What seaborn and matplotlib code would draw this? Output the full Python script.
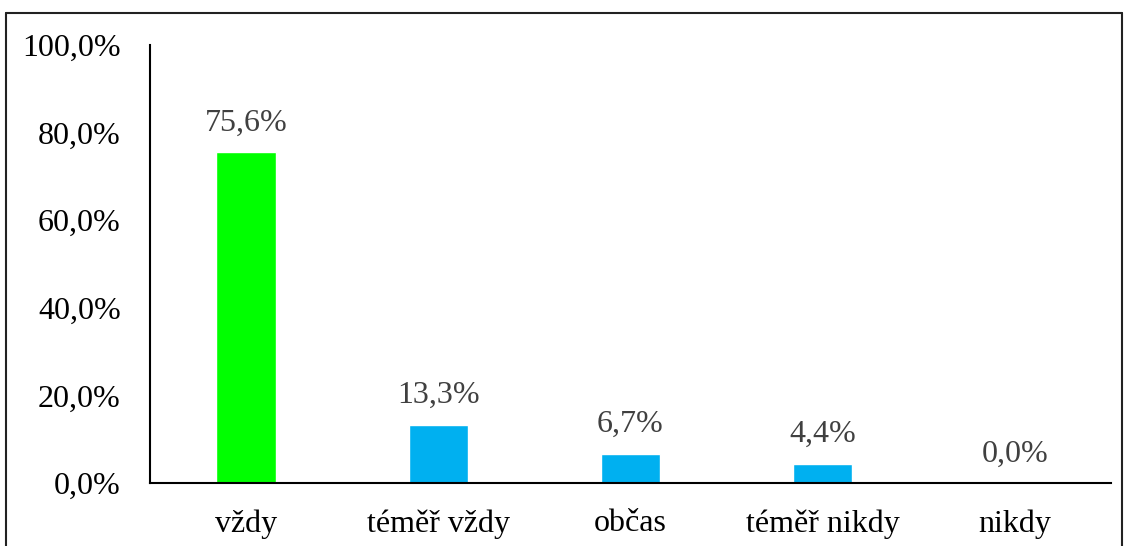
import matplotlib
matplotlib.use("Agg")
import matplotlib.pyplot as plt
import seaborn as sns
import pandas as pd
from matplotlib.lines import Line2D

categories = ["vždy", "téměř vždy", "občas", "téměř nikdy", "nikdy"]
values = [75.6, 13.3, 6.7, 4.4, 0.0]
bar_colors = ["#00FF00", "#00B0F0", "#00B0F0", "#00B0F0", "#00B0F0"]
yticks = [0, 20, 40, 60, 80, 100]

sns.set_style("white")
plt.rcParams["font.family"] = ["Liberation Serif", "DejaVu Serif"]

df = pd.DataFrame({"cat": categories, "val": values})

fig = plt.figure(figsize=(11.26, 5.46), dpi=100)
ax = fig.add_axes([150 / 1126, 1 - 483 / 546, (1111 - 150) / 1126, (483 - 45) / 546])

sns.barplot(data=df, x="cat", y="val", hue="cat", palette=bar_colors,
            legend=False, width=0.31, ax=ax, saturation=1)

ax.set_ylim(0, 100)
ax.set_xlim(-0.5, 4.5)
ax.set_yticks(yticks)
ax.set_yticklabels([f"{v:.1f}%".replace(".", ",") for v in yticks], fontsize=23, color="black")
ax.tick_params(axis="x", labelsize=23, colors="black", pad=19, length=0)
ax.tick_params(axis="y", pad=21, length=0)
ax.set_xlabel("")
ax.set_ylabel("")

for i, v in enumerate(values):
    ax.text(i, v + 3.3, f"{v:.1f}%".replace(".", ","), ha="center", va="bottom",
            fontsize=23, color="#404040")

for s in ["top", "right"]:
    ax.spines[s].set_visible(False)
for s in ["left", "bottom"]:
    ax.spines[s].set_visible(True)
    ax.spines[s].set_color("black")
    ax.spines[s].set_linewidth(1.5)

# figure frame
fig.add_artist(Line2D([6 / 1126, 6 / 1126], [0, 1 - 13 / 546], transform=fig.transFigure, color="#222222", lw=1.5))
fig.add_artist(Line2D([6 / 1126, 1122 / 1126], [1 - 13 / 546, 1 - 13 / 546], transform=fig.transFigure, color="#222222", lw=1.5))
fig.add_artist(Line2D([1122 / 1126, 1122 / 1126], [0, 1 - 13 / 546], transform=fig.transFigure, color="#222222", lw=1.5))

fig.savefig("out.png", dpi=100)
